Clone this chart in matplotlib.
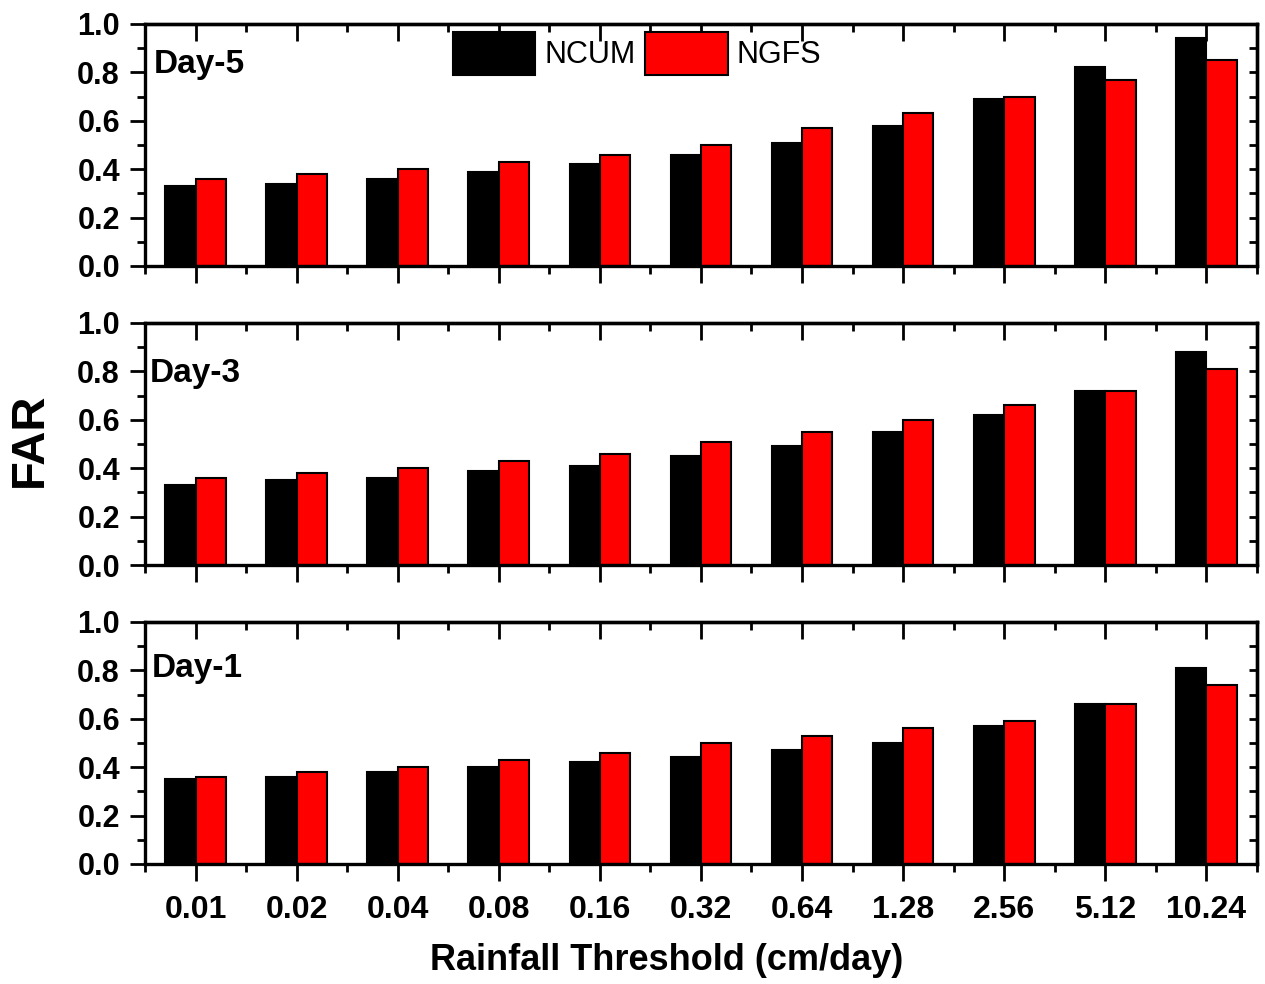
import matplotlib
matplotlib.use("Agg")
import matplotlib.pyplot as plt
import numpy as np
from matplotlib.ticker import FixedLocator, FormatStrFormatter

thresholds = ["0.01", "0.02", "0.04", "0.08", "0.16", "0.32",
              "0.64", "1.28", "2.56", "5.12", "10.24"]
panels = ["Day-5", "Day-3", "Day-1"]

ncum_day5 = [0.33, 0.34, 0.36, 0.39, 0.42, 0.46, 0.51, 0.58, 0.69, 0.82, 0.94]
ngfs_day5 = [0.36, 0.38, 0.40, 0.43, 0.46, 0.50, 0.57, 0.63, 0.70, 0.77, 0.85]
ncum_day3 = [0.33, 0.35, 0.36, 0.39, 0.41, 0.45, 0.49, 0.55, 0.62, 0.72, 0.88]
ngfs_day3 = [0.36, 0.38, 0.40, 0.43, 0.46, 0.51, 0.55, 0.60, 0.66, 0.72, 0.81]
ncum_day1 = [0.35, 0.36, 0.38, 0.40, 0.42, 0.44, 0.47, 0.50, 0.57, 0.66, 0.81]
ngfs_day1 = [0.36, 0.38, 0.40, 0.43, 0.46, 0.50, 0.53, 0.56, 0.59, 0.66, 0.74]

series = [(ncum_day5, ngfs_day5), (ncum_day3, ngfs_day3), (ncum_day1, ngfs_day1)]

FONT = ["Liberation Sans", "DejaVu Sans"]
plt.rcParams["font.family"] = FONT

fig = plt.figure(figsize=(12.65, 9.84), dpi=100)
left, width, height = 0.1146, 0.879, 0.246
bottoms = [0.7297, 0.4258, 0.1220]
# panel label anchor (axes coords, top-left of text)
label_pos = [(0.008, 0.895), (0.004, 0.855), (0.006, 0.870)]

x = np.arange(1, len(thresholds) + 1)
x_minor = np.arange(0.5, len(thresholds) + 1, 1.0)
y_major = np.round(np.arange(0, 1.01, 0.2), 1)
y_minor = np.round(np.arange(0.1, 1.0, 0.2), 1)
y_all = np.round(np.arange(0, 1.01, 0.1), 1)
bw = 0.30
spine_w = 2.4

for i, (label, (ncum, ngfs)) in enumerate(zip(panels, series)):
    ax = fig.add_axes([left, bottoms[i], width, height])
    ax.bar(x - bw / 2, ncum, bw, color="black", edgecolor="black",
           linewidth=1.5, label="NCUM", zorder=2)
    ax.bar(x + bw / 2, ngfs, bw, color="#ff0000", edgecolor="black",
           linewidth=1.5, label="NGFS", zorder=2)
    ax.set_xlim(0.5, len(thresholds) + 0.5)
    ax.set_ylim(0, 1.0)

    for s in ax.spines.values():
        s.set_linewidth(spine_w)

    # bottom / left ticks point outward
    ax.xaxis.set_major_locator(FixedLocator(x))
    ax.xaxis.set_minor_locator(FixedLocator(x_minor))
    ax.yaxis.set_major_locator(FixedLocator(y_major))
    ax.yaxis.set_minor_locator(FixedLocator(y_minor))
    ax.yaxis.set_major_formatter(FormatStrFormatter("%.1f"))
    ax.tick_params(axis="x", which="major", direction="out", length=12, width=2.0,
                   top=False)
    ax.tick_params(axis="x", which="minor", direction="out", length=6, width=2.0,
                   top=False)
    ax.tick_params(axis="y", which="major", direction="out", length=11, width=2.0,
                   right=False, labelsize=22, pad=7)
    ax.tick_params(axis="y", which="minor", direction="out", length=6, width=2.0,
                   right=False)
    for t in ax.get_yticklabels():
        t.set_fontweight("bold")
    if i == 2:
        ax.set_xticklabels(thresholds, fontweight="bold", fontsize=23)
        ax.tick_params(axis="x", which="major", pad=10)
    else:
        ax.set_xticklabels([])

    # top / right ticks point inward
    top = ax.secondary_xaxis("top")
    top.xaxis.set_major_locator(FixedLocator(x))
    top.xaxis.set_minor_locator(FixedLocator(x_minor))
    top.tick_params(which="major", direction="in", length=12, width=2.0, labeltop=False)
    top.tick_params(which="minor", direction="in", length=6, width=2.0)
    top.spines["top"].set_linewidth(spine_w)

    right = ax.secondary_yaxis("right")
    right.yaxis.set_major_locator(FixedLocator(y_all))
    right.tick_params(which="major", direction="in", length=6, width=2.0, labelright=False)
    right.spines["right"].set_linewidth(spine_w)

    lx, ly = label_pos[i]
    ax.text(lx, ly, label, transform=ax.transAxes, ha="left", va="top",
            fontweight="bold", fontsize=24)

    if i == 0:
        ax.legend(loc="upper left", bbox_to_anchor=(0.277, 0.965), ncol=2,
                  frameon=False, prop={"size": 22},
                  handlelength=2.7, handleheight=1.75, handletextpad=0.3,
                  columnspacing=0.3, borderpad=0, borderaxespad=0)

fig.text(0.024, 0.553, "FAR", rotation=90, ha="center", va="center",
         fontweight="bold", fontsize=34)
fig.text(0.527, 0.024, "Rainfall Threshold (cm/day)", ha="center", va="center",
         fontweight="bold", fontsize=26)

fig.savefig("out.png", dpi=100)
